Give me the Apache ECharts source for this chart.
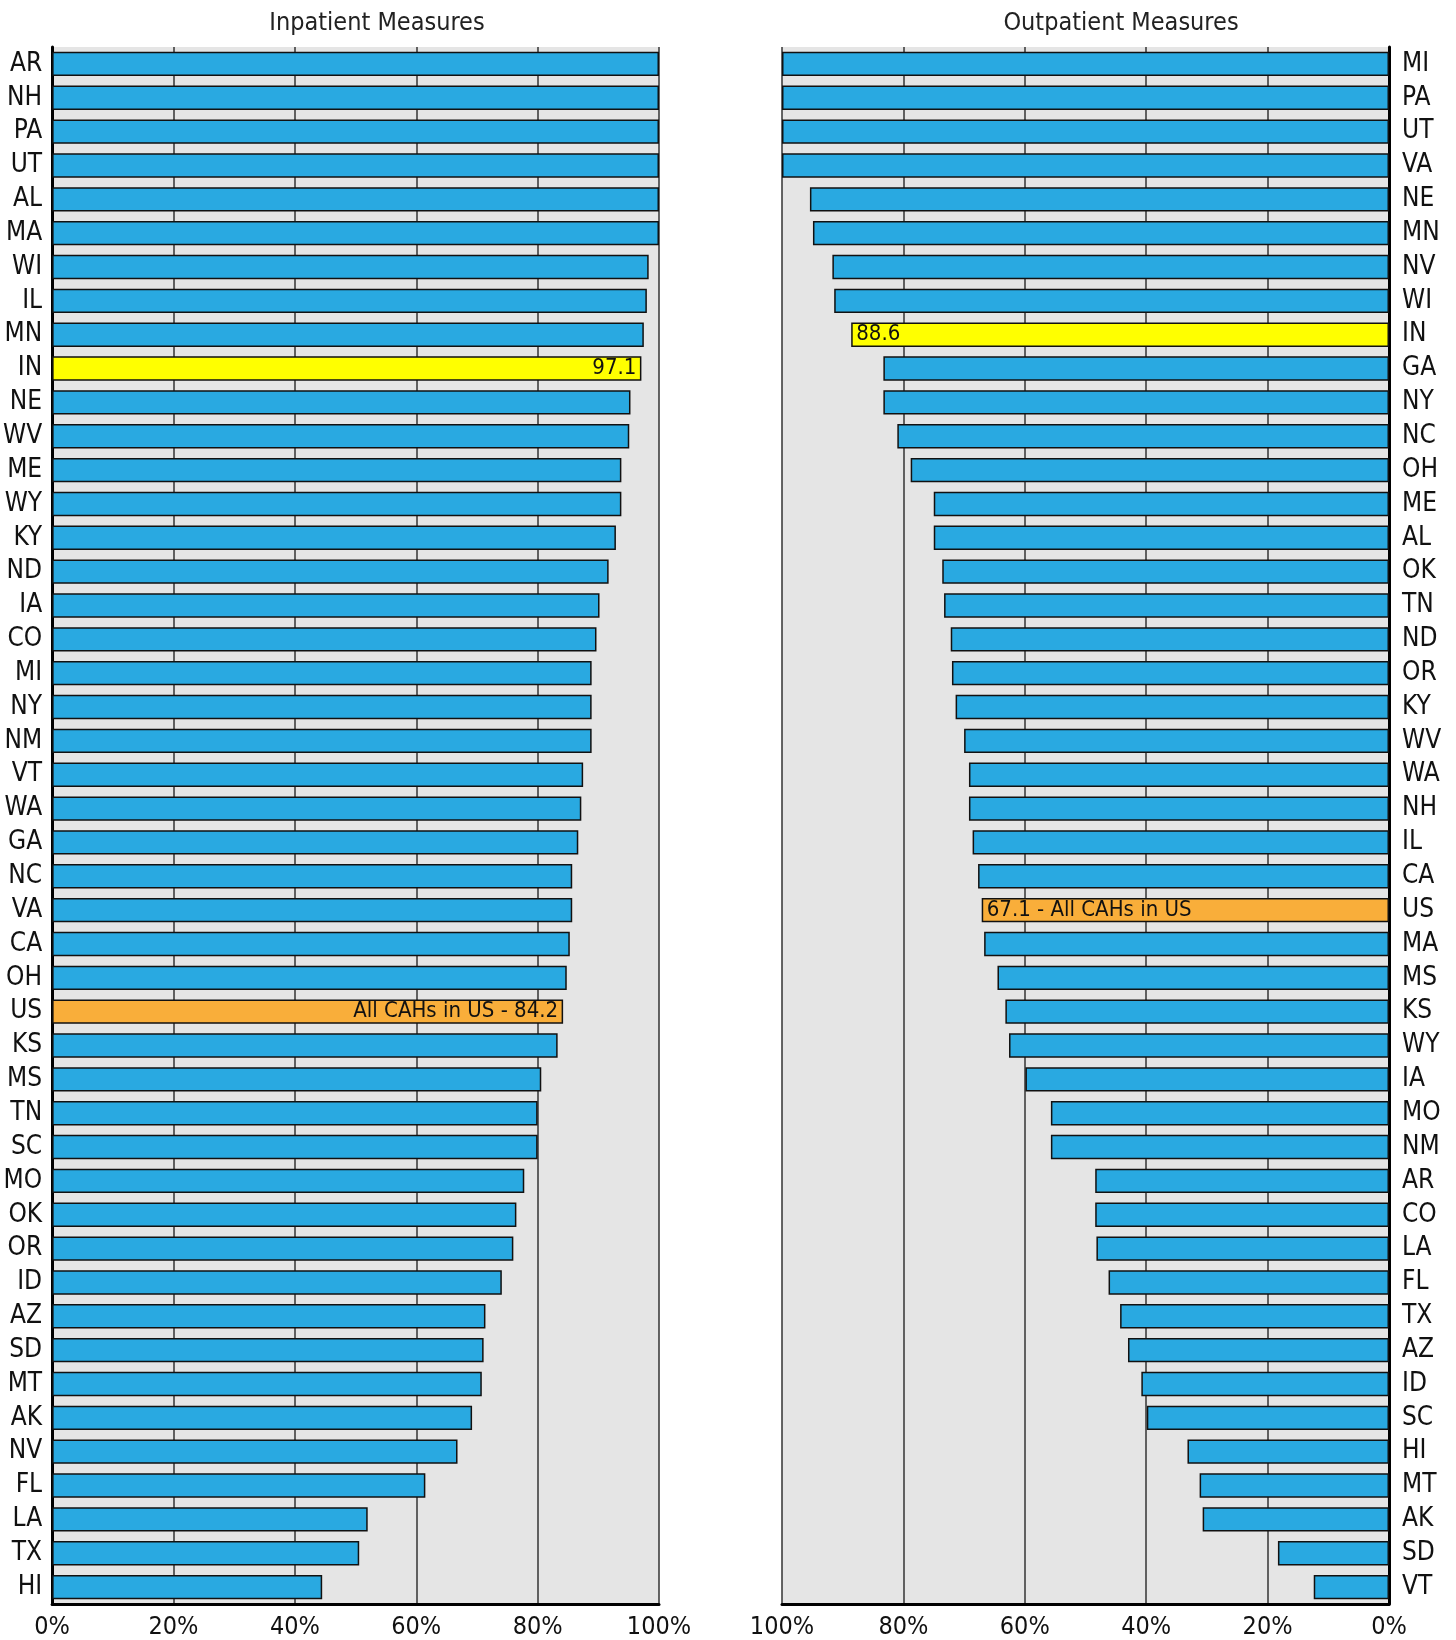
<!DOCTYPE html>
<html>
<head>
<meta charset="utf-8">
<script src="https://cdn.jsdelivr.net/npm/echarts@6/dist/echarts.min.js"></script>
<style>
html,body{margin:0;padding:0;background:#fff;}
#chart{width:1456px;height:1640px;}
</style>
</head>
<body>
<div id="chart"></div>
<script>
const inpatientStates = ["AR","NH","PA","UT","AL","MA","WI","IL","MN","IN","NE","WV","ME","WY","KY","ND","IA","CO","MI","NY","NM","VT","WA","GA","NC","VA","CA","OH","US","KS","MS","TN","SC","MO","OK","OR","ID","AZ","SD","MT","AK","NV","FL","LA","TX","HI"];
const inpatientValues = [100,100,100,100,100,100,98.3,98.0,97.5,97.1,95.3,95.1,93.8,93.8,92.9,91.7,90.2,89.7,88.9,88.9,88.9,87.5,87.2,86.7,85.7,85.7,85.3,84.8,84.2,83.3,80.6,80.0,80.0,77.8,76.5,76.0,74.1,71.4,71.1,70.8,69.2,66.8,61.5,52.0,50.6,44.5];

const outpatientStates = ["MI","PA","UT","VA","NE","MN","NV","WI","IN","GA","NY","NC","OH","ME","AL","OK","TN","ND","OR","KY","WV","WA","NH","IL","CA","US","MA","MS","KS","WY","IA","MO","NM","AR","CO","LA","FL","TX","AZ","ID","SC","HI","MT","AK","SD","VT"];
const outpatientValues = [100,100,100,100,95.4,94.9,91.7,91.4,88.6,83.3,83.3,81.0,78.8,75.0,75.0,73.6,73.3,72.2,72.0,71.4,70.0,69.2,69.2,68.6,67.7,67.1,66.7,64.5,63.2,62.6,59.9,55.7,55.7,48.4,48.4,48.2,46.2,44.3,43.0,40.8,39.9,33.2,31.2,30.7,18.3,12.4];

const panelTitles = ["Inpatient Measures","Outpatient Measures"];
const tickMin = 0, tickMax = 100, tickStep = 20;
const usLabelLeft = "All CAHs in US - {v}";
const usLabelRight = "{v} - All CAHs in US";

const FONT = "'Liberation Sans Narrow','Arial Narrow','DejaVu Sans Condensed',sans-serif";
const BLUE = '#29a9e1', YELLOW = '#ffff00', ORANGE = '#f9ae3a';

function buildData(states, values, side) {
  return values.map((v, i) => {
    const s = states[i];
    const item = { value: v };
    let color = BLUE;
    if (s === 'IN') color = YELLOW;
    if (s === 'US') color = ORANGE;
    item.itemStyle = { color: color };
    if (s === 'IN' || s === 'US') {
      let txt = String(v);
      if (s === 'US') txt = (side === 'left' ? usLabelLeft : usLabelRight).replace('{v}', v);
      item.label = {
        show: true,
        position: side === 'left' ? 'insideRight' : 'insideLeft',
        distance: 5,
        formatter: txt,
        color: '#111',
        fontFamily: FONT,
        fontSize: 22
      };
    }
    return item;
  });
}

const chart = echarts.init(document.getElementById('chart'), null, { renderer: 'canvas' });

const gridCommon = { top: 47, height: 1557, show: true, backgroundColor: '#e5e5e5', borderWidth: 0 };

const xCommon = {
  type: 'value', min: tickMin, max: tickMax, interval: tickStep,
  axisLine: { show: true, onZero: false, lineStyle: { color: '#000', width: 3 } },
  axisTick: { show: false },
  splitLine: { show: true, lineStyle: { color: '#333', width: 1.5 } },
  axisLabel: { formatter: '{value}%', color: '#111', fontFamily: FONT, fontSize: 25, margin: 11 }
};
const yCommon = {
  type: 'category', inverse: true,
  axisLine: { show: true, lineStyle: { color: '#000', width: 3 } },
  axisTick: { show: false },
  splitLine: { show: false },
  axisLabel: { color: '#111', fontFamily: FONT, fontSize: 26, interval: 0 }
};

chart.setOption({
  animation: false,
  backgroundColor: '#fff',
  title: [
    { text: panelTitles[0], left: 372, top: 6, textAlign: 'center',
      textStyle: { fontFamily: FONT, fontSize: 25, fontWeight: 'normal', color: '#222' } },
    { text: panelTitles[1], left: 1116, top: 6, textAlign: 'center',
      textStyle: { fontFamily: FONT, fontSize: 25, fontWeight: 'normal', color: '#222' } }
  ],
  grid: [
    Object.assign({ left: 52, width: 607 }, gridCommon),
    Object.assign({ left: 782, width: 607 }, gridCommon)
  ],
  xAxis: [
    Object.assign({ gridIndex: 0 }, xCommon),
    Object.assign({ gridIndex: 1, inverse: true }, xCommon)
  ],
  yAxis: [
    Object.assign({ gridIndex: 0, position: 'left', data: inpatientStates }, yCommon,
      { axisLabel: Object.assign({}, yCommon.axisLabel, { margin: 10 }) }),
    Object.assign({ gridIndex: 1, position: 'right', data: outpatientStates }, yCommon,
      { axisLabel: Object.assign({}, yCommon.axisLabel, { margin: 13 }) })
  ],
  series: [
    { type: 'bar', xAxisIndex: 0, yAxisIndex: 0, barCategoryGap: '28%',
      itemStyle: { borderColor: '#111', borderWidth: 1.5 },
      data: buildData(inpatientStates, inpatientValues, 'left') },
    { type: 'bar', xAxisIndex: 1, yAxisIndex: 1, barCategoryGap: '28%',
      itemStyle: { borderColor: '#111', borderWidth: 1.5 },
      data: buildData(outpatientStates, outpatientValues, 'right') }
  ]
});
</script>
</body>
</html>
